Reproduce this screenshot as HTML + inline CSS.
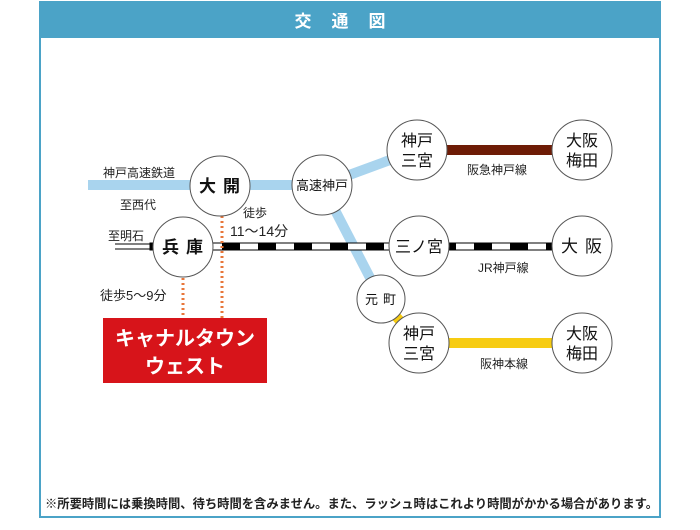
<!DOCTYPE html>
<html><head><meta charset="utf-8"><style>
body{margin:0;background:#fff;}
svg text{font-family:"Liberation Sans","Noto Sans CJK JP",sans-serif;}
</style></head><body>
<svg width="700" height="525" viewBox="0 0 700 525" xmlns="http://www.w3.org/2000/svg">
<rect x="0" y="0" width="700" height="525" fill="#fff"/>
<rect x="40" y="2" width="620" height="36" fill="#4ba3c7"/>
<rect x="40" y="2" width="620" height="515" fill="none" stroke="#4ba3c7" stroke-width="2"/>
<text x="350" y="27" font-size="17" font-weight="bold" fill="#fff" text-anchor="middle" letter-spacing="20">交通図</text>

<g stroke="#a9d4ee" stroke-width="10" fill="none">
<line x1="88" y1="185" x2="322" y2="185"/>
<line x1="322" y1="185" x2="417" y2="150"/>
<line x1="322" y1="185" x2="381" y2="299"/>
</g>
<line x1="417" y1="150" x2="582" y2="150" stroke="#6e1c06" stroke-width="10"/>
<line x1="381" y1="299" x2="419" y2="343" stroke="#f7cc12" stroke-width="10"/>
<line x1="419" y1="343" x2="582" y2="343" stroke="#f7cc12" stroke-width="10"/>
<line x1="115" y1="244" x2="150" y2="244" stroke="#000" stroke-width="1"/>
<line x1="115" y1="249" x2="150" y2="249" stroke="#000" stroke-width="1"/>
<rect x="150" y="243" width="432" height="7" fill="#fff" stroke="#000" stroke-width="1"/>
<line x1="150" y1="246.5" x2="582" y2="246.5" stroke="#000" stroke-width="6" stroke-dasharray="18,18"/>
<g stroke="#e8763a" stroke-width="3" stroke-dasharray="2,3">
<line x1="183" y1="278" x2="183" y2="318"/>
<line x1="222" y1="216" x2="222" y2="318"/>
</g>
<rect x="103" y="318" width="164" height="65" fill="#d7141a"/>
<text x="185" y="345" font-size="20" font-weight="bold" fill="#fff" text-anchor="middle">キャナルタウン</text>
<text x="185" y="373" font-size="20" font-weight="bold" fill="#fff" text-anchor="middle">ウェスト</text>

<g fill="#fff" stroke="#555" stroke-width="1">
<circle cx="220" cy="186" r="30"/>
<circle cx="322" cy="185" r="30"/>
<circle cx="417" cy="150" r="30"/>
<circle cx="582" cy="150" r="30"/>
<circle cx="183" cy="247" r="30"/>
<circle cx="419" cy="246" r="30"/>
<circle cx="582" cy="246" r="30"/>
<circle cx="381" cy="299" r="24"/>
<circle cx="419" cy="343" r="30"/>
<circle cx="582" cy="343" r="30"/>
</g>
<g fill="#111" text-anchor="middle">
<text x="223" y="192" font-size="17" font-weight="bold" letter-spacing="7">大開</text>
<text x="322" y="190" font-size="13">高速神戸</text>
<text x="417" y="146" font-size="16">神戸</text><text x="417" y="166" font-size="16">三宮</text>
<text x="582" y="146" font-size="16">大阪</text><text x="582" y="166" font-size="16">梅田</text>
<text x="186" y="253" font-size="17" font-weight="bold" letter-spacing="7">兵庫</text>
<text x="419" y="252" font-size="16">三ノ宮</text>
<text x="585" y="252" font-size="17" letter-spacing="7">大阪</text>
<text x="383" y="304" font-size="13" letter-spacing="5">元町</text>
<text x="419" y="339" font-size="16">神戸</text><text x="419" y="359" font-size="16">三宮</text>
<text x="582" y="339" font-size="16">大阪</text><text x="582" y="359" font-size="16">梅田</text>
</g>
<g fill="#222" font-size="12">
<text x="103" y="177">神戸高速鉄道</text>
<text x="120" y="209">至西代</text>
<text x="108" y="240">至明石</text>
<text x="243" y="217">徒歩</text>
<text x="230" y="236" font-size="14">11〜14分</text>
<text x="100" y="300" font-size="13">徒歩5〜9分</text>
<text x="467" y="174">阪急神戸線</text>
<text x="478" y="272">JR神戸線</text>
<text x="480" y="368">阪神本線</text>
<text x="45" y="508" font-size="12.3" font-weight="bold">※所要時間には乗換時間、待ち時間を含みません。また、ラッシュ時はこれより時間がかかる場合があります。</text>
</g>
</svg>
</body></html>
